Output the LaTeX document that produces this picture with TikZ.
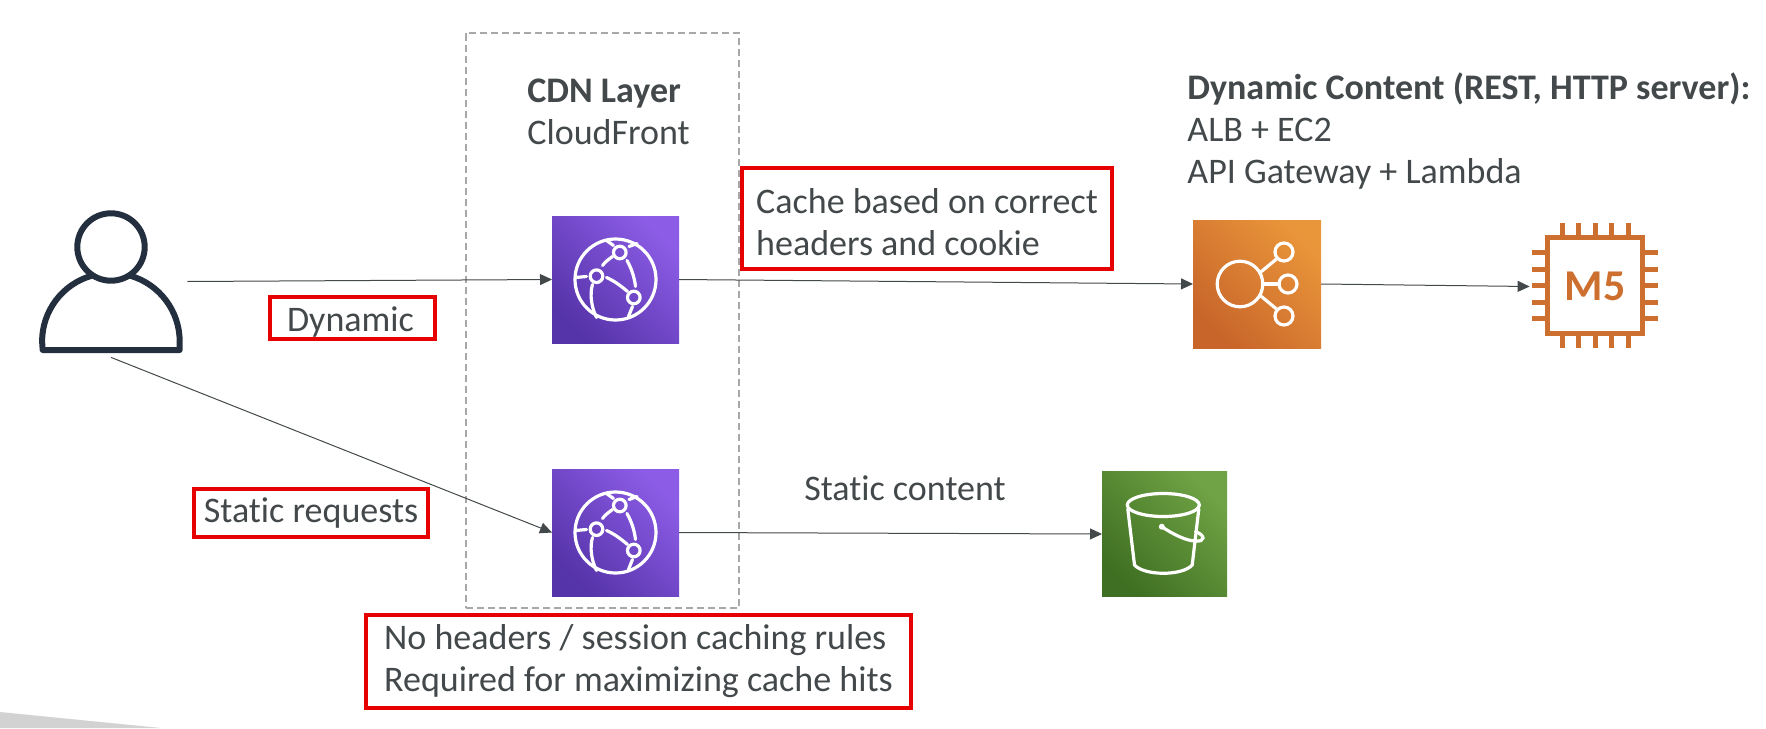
\documentclass[tikz,border=0pt]{standalone}
\usepackage{fontspec}
\setmainfont{Carlito}[Ligatures=NoCommon]
\usetikzlibrary{arrows.meta}
\newlength{\du}
\setlength{\du}{0.5pt}
\definecolor{txtcolor}{HTML}{43484A}
\definecolor{flowcolor}{HTML}{43484A}
\definecolor{redcolor}{HTML}{E60000}
\definecolor{dashcolor}{HTML}{A8A8A8}
\definecolor{usercolor}{HTML}{232F3E}
\definecolor{ec2color}{HTML}{CC6F2F}
\definecolor{cfhigh}{HTML}{8C5CE6}
\definecolor{cflow}{HTML}{5533A8}
\definecolor{albhigh}{HTML}{E9953A}
\definecolor{alblow}{HTML}{C8652A}
\definecolor{sthigh}{HTML}{6FA345}
\definecolor{stlow}{HTML}{3F6F22}
\tikzset{
  lbl/.style={font=\fontsize{18}{21}\selectfont,text=txtcolor,align=left,inner sep=0pt},
  redbox/.style={lbl,draw=redcolor,line width=2pt},
  cdnbox/.style={draw=dashcolor,line width=1pt,dash pattern=on 3.5pt off 2pt,minimum width=273\du,minimum height=575\du},
  iconbox/.style={minimum size=127\du,inner sep=0pt,outer sep=0pt},
  cfbox/.style={iconbox,top color=cfhigh,bottom color=cflow,shading angle=-45},
  flow/.style={color=flowcolor,line width=0.5pt,-{Triangle[length=6pt,width=5.5pt]}},
  iconline/.style={draw=white,line width=1.6pt,line cap=round}
}
\newcommand{\cdnglobe}[1]{
\begin{scope}[shift={(#1)},iconline]
\draw (0,0) circle (40.5);
\draw (-19,-3.3) circle (6.3);
\draw (4.3,-27) circle (6.3);
\draw (18.3,18) circle (6.3);
\draw (-13,-14) .. controls (-10,-18) and (-7,-20) .. (-3,-23);
\draw (11.5,-19) .. controls (16,-11) and (19,-2) .. (20,7);
\draw (-9,-2) .. controls (-2,1) and (5,6) .. (12,12);
\draw (-23,5) .. controls (-26,15) and (-24,28) .. (-19,38);
\draw (-40,-2) -- (-29,-3);
\draw (-9,-39) -- (-2,-34);
\draw (13.5,-33) -- (21.5,-36);
\draw (17,27) -- (13,37);
\end{scope}
}
\begin{document}
\begin{tikzpicture}[x=\du,y=-\du]
\useasboundingbox (0,0) rectangle (1766,728);
% corner wedge
\fill[gray!35] (0,712) -- (161,728) -- (0,728) -- cycle;
% cdn layer
\node[cdnbox] (cdn) at (602.5,320) {};
\node[lbl,anchor=north west] (cdntxt) at (527,78) {\textbf{CDN Layer}\\CloudFront};
% icons
\node[cfbox] (cft) at (615.5,279.5) {};
\node[cfbox] (cfb) at (615.5,532.5) {};
\node[iconbox,minimum size=128\du,top color=albhigh,bottom color=alblow,shading angle=-45] (alb) at (1257,284) {};
\node[iconbox,minimum size=125\du,top color=sthigh,bottom color=stlow,shading angle=-45] (sss) at (1164.5,534) {};
\node[inner sep=0pt,minimum width=152\du,minimum height=151\du] (usr) at (111,281.5) {};
\node[inner sep=0pt,minimum size=130\du,text=ec2color,font=\fontsize{22}{25}\selectfont\bfseries] (mfive) at (1595,286.5) {M5};
% person
\draw[usercolor,line width=3pt] (111,247) circle (33.7);
\draw[usercolor,line width=3pt,line join=round] (91.7,275.7) arc[start angle=254,end angle=180,radius=68.5] -- (42.7,350) -- (179.7,350) -- (179.7,341.5) arc[start angle=0,end angle=-74,radius=68.5];
% cloudfront
\cdnglobe{cft.center}
\cdnglobe{cfb.center}
% load balancer
\begin{scope}[shift={(alb.center)},iconline]
\draw (-17,0) circle (22.8);
\draw (27,-32) circle (9);
\draw (31,0) circle (9);
\draw (27,32) circle (9);
\draw (3.8,-12) -- (19.5,-25);
\draw (7,0) -- (22,0);
\draw (3.8,12) -- (19.5,25);
\end{scope}
% bucket
\begin{scope}[shift={(sss.center)},iconline]
\draw (-1.2,-29) ellipse (36 and 11.5);
\draw (-36.7,-25) -- (-30,31) .. controls (-20,42) and (18,42) .. (27.7,31) -- (34.3,-25);
\fill[white] (-2.7,-7.3) circle (3);
\draw (-2.7,-7.3) .. controls (8,0) and (22,7) .. (31,7) .. controls (41,8) and (41,1) .. (31,-2.3);
\end{scope}
% chip
\begin{scope}[shift={(1595,285.5)}]
\draw[ec2color,line width=2.5pt] (-47.7,-47.7) rectangle (47.7,47.7);
\foreach \k in {-33,-16.5,0,16.5,33}{
\draw[ec2color,line width=2.5pt] (\k,-49) -- (\k,-62.7);
\draw[ec2color,line width=2.5pt] (\k,49) -- (\k,62.7);
\draw[ec2color,line width=2.5pt] (-49,\k) -- (-62.7,\k);
\draw[ec2color,line width=2.5pt] (49,\k) -- (62.7,\k);
}
\end{scope}
% connectors
\draw[flow] (usr.east) -- (cft.west);
\draw[flow] (usr.south) -- (cfb.west);
\draw[flow] (cft.east) -- (alb.west);
\draw[flow] (alb.east) -- (mfive.west);
\draw[flow] (cfb.east) -- (sss.west);
% labels
\node[lbl,anchor=north west] (dyntxt) at (1187,72) {\textbf{Dynamic Content (REST, HTTP server):}\\ALB + EC2\\API Gateway + Lambda};
\node[lbl] (stattxt) at (905,488) {Static content};
\node[redbox,minimum width=165\du,minimum height=42\du] (dynbox) at (352.5,318) {\raisebox{-2pt}[13pt][4pt]{Dynamic}\hspace*{2pt}};
\node[redbox,minimum width=234\du,minimum height=48\du] (statbox) at (311,513) {Static requests};
\node[redbox,minimum width=370\du,minimum height=101\du] (cachebox) at (927,218.5) {\rule{0pt}{16.5pt}Cache based on correct\\headers and cookie};
\node[redbox,minimum width=545\du,minimum height=93\du] (rulebox) at (638.5,661) {No headers / session caching rules\\Required for maximizing cache hits};
\end{tikzpicture}
\end{document}
